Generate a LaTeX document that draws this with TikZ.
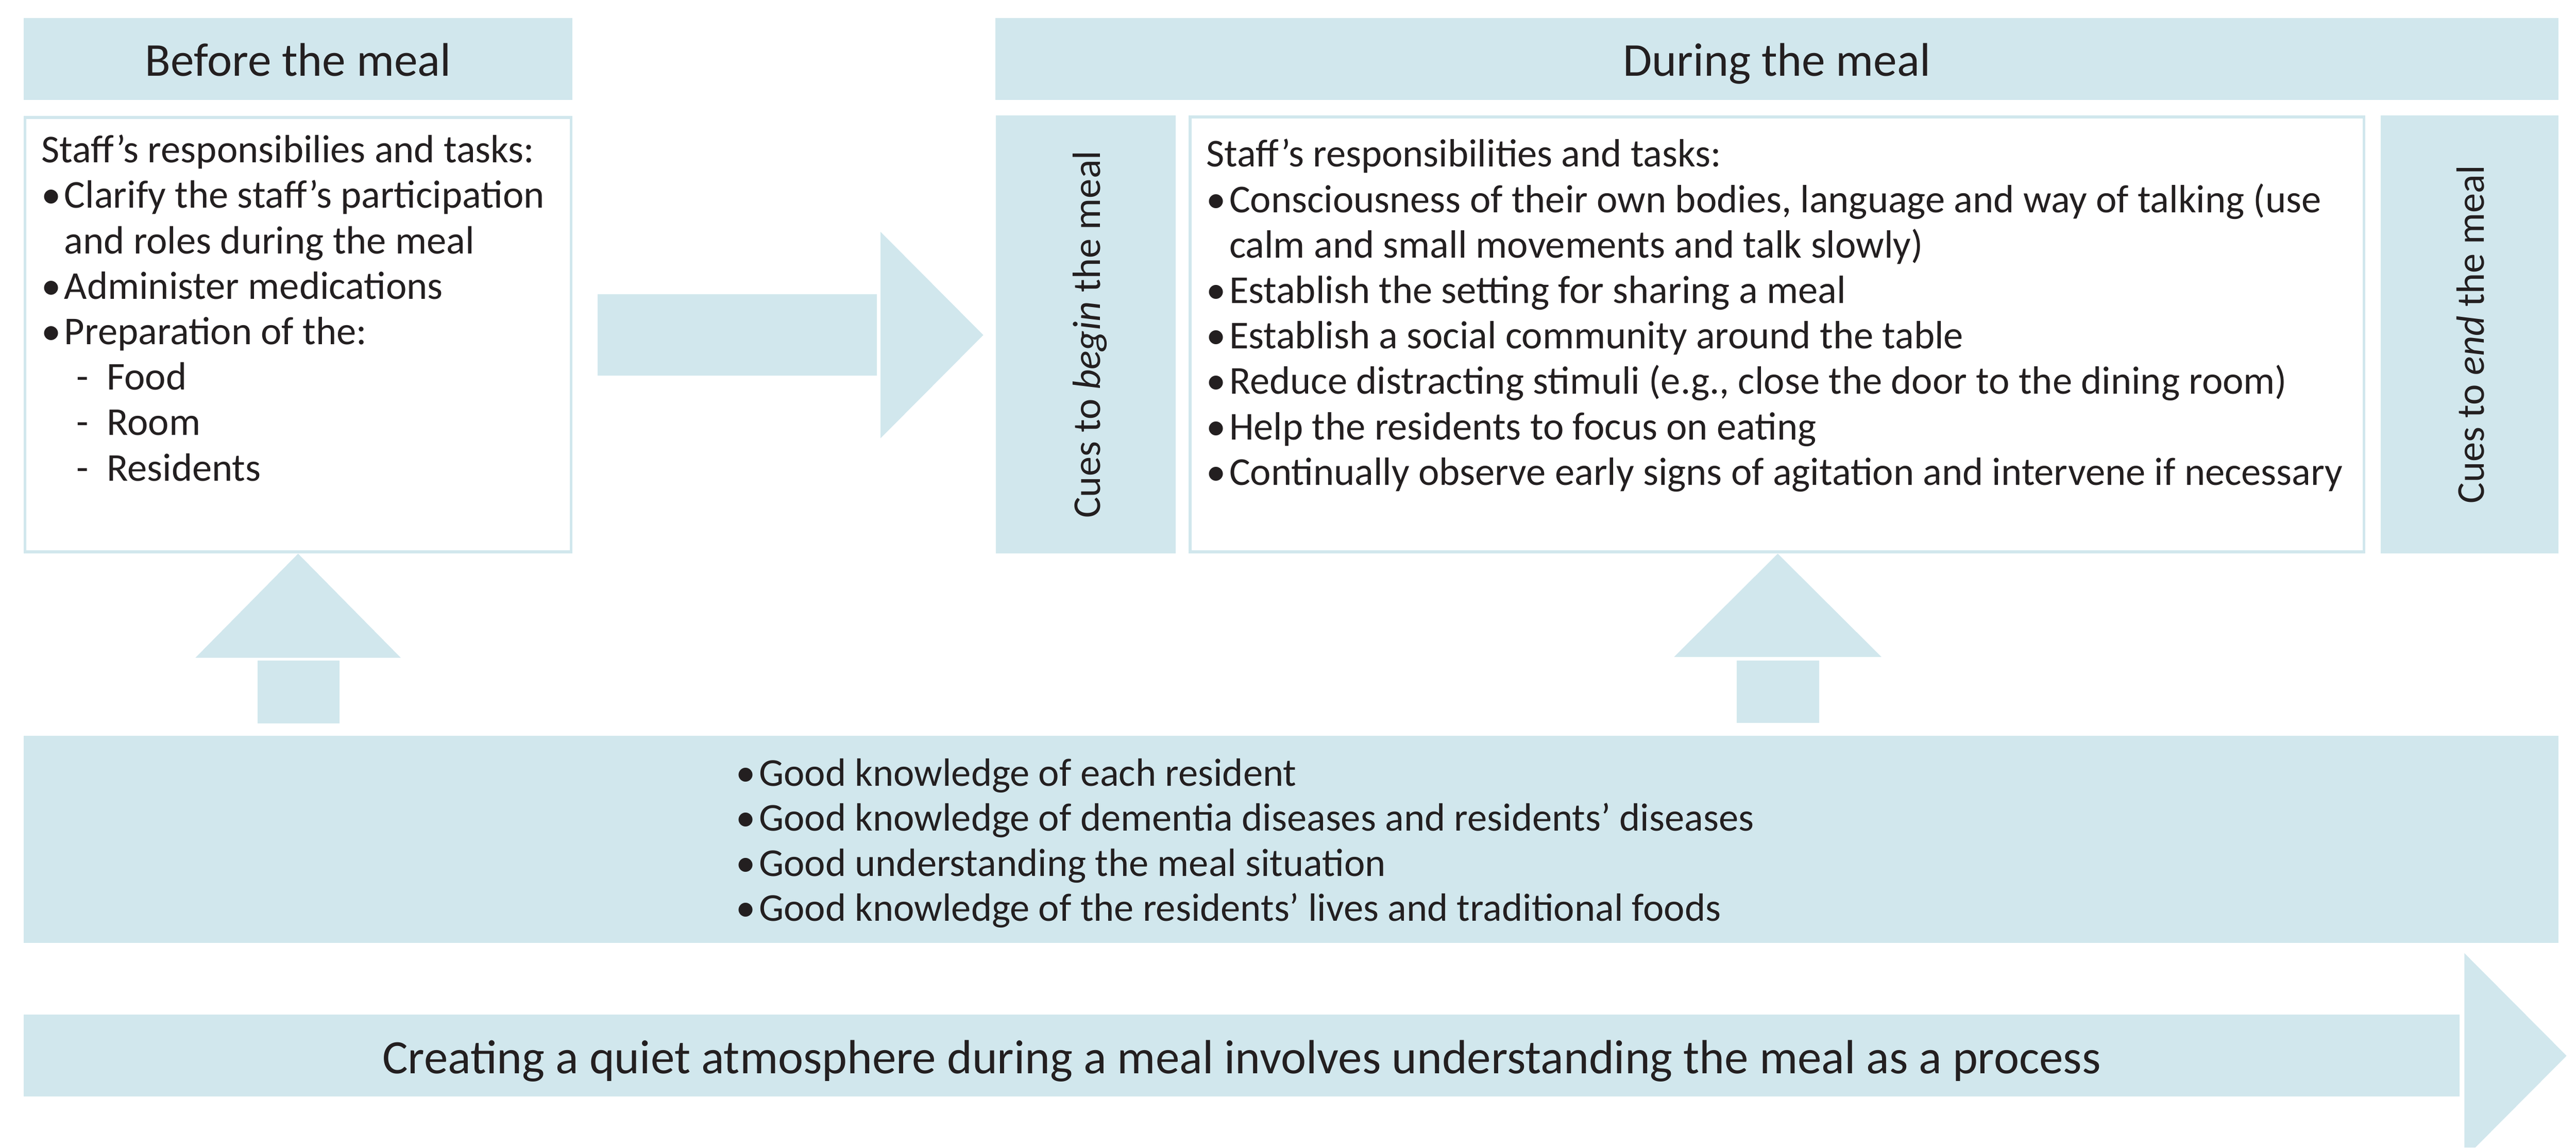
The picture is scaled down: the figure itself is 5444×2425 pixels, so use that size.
\documentclass[tikz,border=0pt]{standalone}
\usepackage{fontspec}
\setmainfont{Carlito}
\usepackage{xcolor}
\definecolor{mealblue}{RGB}{209,231,237}
\definecolor{mealtext}{RGB}{35,31,32}
\newlength{\bulw}
\setlength{\bulw}{13.7pt}
\newcommand{\itm}{\makebox[\bulw][l]{\textbullet}}
\newcommand{\cnt}{\hspace*{\bulw}}
\newcommand{\sub}[1]{\hspace*{21pt}-\hspace{11pt}#1}

\begin{document}
\begin{tikzpicture}[x=0.01cm,y=-0.01cm,
  hdr/.style={font=\fontsize{28.3}{33}\selectfont,text=mealtext,inner sep=0pt},
  txt/.style={font=\fontsize{23.7}{27.31}\selectfont,text=mealtext,align=left,inner sep=0pt},
  frame/.style={draw=mealblue,line width=1.7pt,fill=white}]
  \useasboundingbox (0,0) rectangle (5444,2425);

  % before the meal
  \fill[mealblue] (50,38) rectangle (1210,211);
  \node[hdr,anchor=base] (bef) at (630,161) {Before the meal};
  \draw[frame] (53,248) rectangle (1207,1166);
  \node[txt,anchor=base west] (beftasks) at (87,1016) {Staff’s responsibilies and tasks:\\
    \itm Clarify the staff’s participation\\
    \cnt and roles during the meal\\
    \itm Administer medications\\
    \itm Preparation of the:\\
    \sub{Food}\\
    \sub{Room}\\
    \sub{Residents}};

  % arrow to during
  \fill[mealblue] (1263,622) rectangle (1853,794);
  \fill[mealblue] (1861,490) -- (2078,708) -- (1861,926) -- cycle;

  % during the meal
  \fill[mealblue] (2104,38) rectangle (5407,211);
  \node[hdr,anchor=base] (dur) at (3755,161) {During the meal};
  \fill[mealblue] (2105,244) rectangle (2485,1169);
  \node[txt,anchor=base,rotate=90] (cuebeg) at (2325,707) {Cues to \textit{begin} the meal};
  \draw[frame] (2515,247) rectangle (4996,1166);
  \node[txt,anchor=base west] (durtasks) at (2549,1025) {Staff’s responsibilities and tasks:\\
    \itm Consciousness of their own bodies, language and way of talking (use\\
    \cnt calm and small movements and talk slowly)\\
    \itm Establish the setting for sharing a meal\\
    \itm Establish a social community around the table\\
    \itm Reduce distracting stimuli (e.g., close the door to the dining room)\\
    \itm Help the residents to focus on eating\\
    \itm Continually observe early signs of agitation and intervene if necessary};
  \fill[mealblue] (5031,244) rectangle (5407,1169);
  \node[txt,anchor=base,rotate=90] (cueend) at (5250,707) {Cues to \textit{end} the meal};

  % up arrows
  \fill[mealblue] (413,1390) -- (630,1170) -- (847,1390) -- cycle;
  \fill[mealblue] (544,1396) rectangle (718,1529);
  \fill[mealblue] (3538,1388) -- (3757,1170) -- (3976,1388) -- cycle;
  \fill[mealblue] (3670,1396) rectangle (3844,1528);

  % knowledge
  \fill[mealblue] (50,1555) rectangle (5407,1993);
  \node[txt,anchor=base west,font=\fontsize{23.7}{27.0}\selectfont] (know) at (1555,1946) {\itm Good knowledge of each resident\\
    \itm Good knowledge of dementia diseases and residents’ diseases\\
    \itm Good understanding the meal situation\\
    \itm Good knowledge of the residents’ lives and traditional foods};

  % process arrow
  \fill[mealblue] (50,2144) rectangle (5198,2317);
  \fill[mealblue] (5208,2014) -- (5424,2231) -- (5231,2425) -- (5208,2425) -- cycle;
  \node[hdr,anchor=base,font=\fontsize{28.8}{33}\selectfont] (proc) at (2624,2268) {Creating a quiet atmosphere during a meal involves understanding the meal as a process};
\end{tikzpicture}
\end{document}
